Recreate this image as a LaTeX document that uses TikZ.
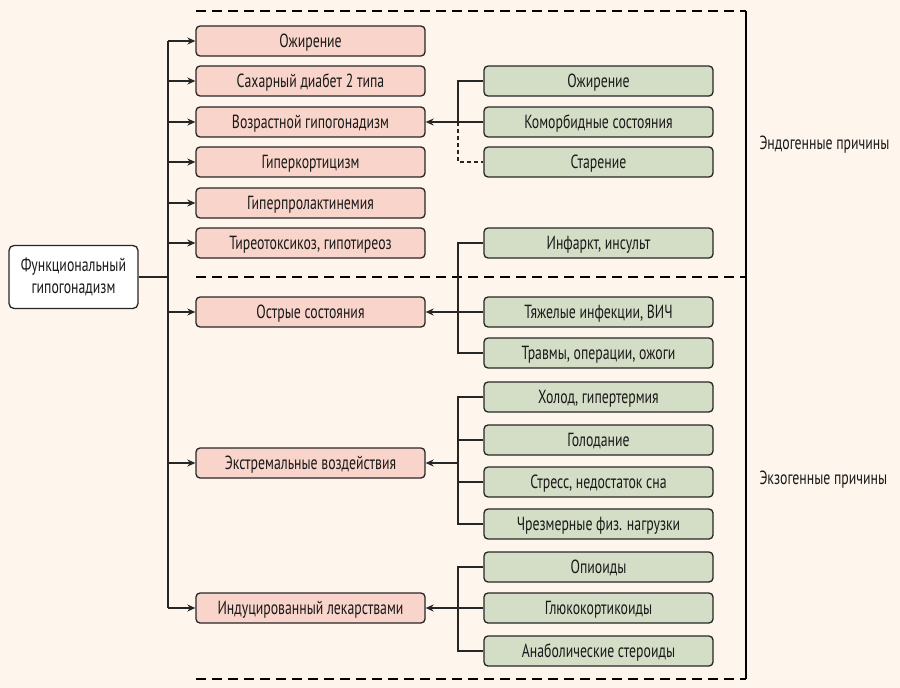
\documentclass[tikz,border=0pt]{standalone}
\usepackage{fontspec}
\setmainfont[FakeStretch=0.725]{PT Sans}
\usetikzlibrary{arrows.meta}
\definecolor{bgc}{RGB}{254,246,237}
\definecolor{pinkc}{RGB}{249,212,202}
\definecolor{greenc}{RGB}{212,222,198}
\definecolor{linec}{RGB}{38,38,38}
\tikzset{
  box/.style={draw=linec, line width=1.3pt, rounded corners=4pt, minimum width=229pt, minimum height=30pt, inner sep=0pt, text height=13.3pt, text depth=0pt, font=\fontsize{19}{22}\selectfont, text=black!90},
  pinkbox/.style={box, fill=pinkc},
  greenbox/.style={box, fill=greenc},
  conn/.style={draw=linec, line width=1.2pt},
  arr/.style={conn, -{Stealth[length=8pt,width=7pt,inset=2.5pt]}},
  dsh/.style={draw=black, line width=1.6pt, dash pattern=on 10pt off 6pt},
  lbl/.style={font=\fontsize{19}{22}\selectfont, text=black!90, anchor=west}
}
\begin{document}
\begin{tikzpicture}[x=1pt,y=-1pt]
\fill[bgc] (0,0) rectangle (900,688);
\useasboundingbox (0,0) rectangle (900,688);

% central node
\node[draw=linec, line width=1.3pt, rounded corners=5pt, fill=white, minimum width=129pt, minimum height=63pt, align=center, font=\fontsize{19}{22}\selectfont, text=black!90] (c) at (73.5,277) {Функциональный\\гипогонадизм};

% pink boxes
\node[pinkbox] (p1) at (310.5,41) {Ожирение};
\node[pinkbox] (p2) at (310.5,81) {Сахарный диабет 2 типа};
\node[pinkbox] (p3) at (310.5,122) {Возрастной гипогонадизм};
\node[pinkbox] (p4) at (310.5,162) {Гиперкортицизм};
\node[pinkbox] (p5) at (310.5,203) {Гиперпролактинемия};
\node[pinkbox] (p6) at (310.5,243) {Тиреотоксикоз, гипотиреоз};
\node[pinkbox] (p7) at (310.5,312) {Острые состояния};
\node[pinkbox] (p8) at (310.5,463) {Экстремальные воздействия};
\node[pinkbox] (p9) at (310.5,608) {Индуцированный лекарствами};

% green boxes
\node[greenbox] (g1) at (598.5,81) {Ожирение};
\node[greenbox] (g2) at (598.5,122) {Коморбидные состояния};
\node[greenbox] (g3) at (598.5,162) {Старение};
\node[greenbox] (g4) at (598.5,243) {Инфаркт, инсульт};
\node[greenbox] (g5) at (598.5,312) {Тяжелые инфекции, ВИЧ};
\node[greenbox] (g6) at (598.5,353) {Травмы, операции, ожоги};
\node[greenbox] (g7) at (598.5,397) {Холод, гипертермия};
\node[greenbox] (g8) at (598.5,440) {Голодание};
\node[greenbox] (g9) at (598.5,482) {Стресс, недостаток сна};
\node[greenbox] (g10) at (598.5,524) {Чрезмерные физ. нагрузки};
\node[greenbox] (g11) at (598.5,567) {Опиоиды};
\node[greenbox] (g12) at (598.5,608) {Глюкокортикоиды};
\node[greenbox] (g13) at (598.5,651) {Анаболические стероиды};

% region labels
\node[lbl] (endo) at (756,145) {Эндогенные причины};
\node[lbl] (exo) at (756,480) {Экзогенные причины};

% dashed frame
\coordinate (tl) at (196,11);
\coordinate (tr) at (746,11);
\coordinate (ml) at (196,277);
\coordinate (mr) at (746,277);
\coordinate (bl) at (196,679);
\coordinate (br) at (746,679);
\draw[dsh] (tl) -- (tr);
\draw[dsh] (ml) -- (mr);
\draw[dsh] (bl) -- (br);
\draw[draw=black, line width=1.6pt] (tr) -- (br);

% main bus
\coordinate (bus) at (168,277);
\draw[conn] (c.east) -- (bus);
\draw[conn] (p1.west -| bus) -- (p9.west -| bus);
\foreach \n in {p1,p2,p3,p4,p5,p6,p7,p8,p9}
  \draw[arr] (\n.west -| bus) -- (\n.west);

% right side brackets
\coordinate (gx) at (458,0);
% group 1
\draw[conn] (g1.west) -- (g1.west -| gx) -- (g2.west -| gx);
\draw[conn, dash pattern=on 4pt off 3pt] (g2.west -| gx) |- (g3.west);
\draw[arr] (g2.west) -- (p3.east);
% group 2
\draw[conn] (g4.west) -- (g4.west -| gx) |- (g6.west);
\draw[arr] (g5.west) -- (p7.east);
% group 3
\draw[conn] (g7.west) -- (g7.west -| gx) |- (g10.west);
\draw[conn] (g8.west) -- (g8.west -| gx);
\draw[conn] (g9.west) -- (g9.west -| gx);
\draw[arr] (p8.east -| gx) -- (p8.east);
% group 4
\draw[conn] (g11.west) -- (g11.west -| gx) |- (g13.west);
\draw[arr] (g12.west) -- (p9.east);
\end{tikzpicture}
\end{document}
